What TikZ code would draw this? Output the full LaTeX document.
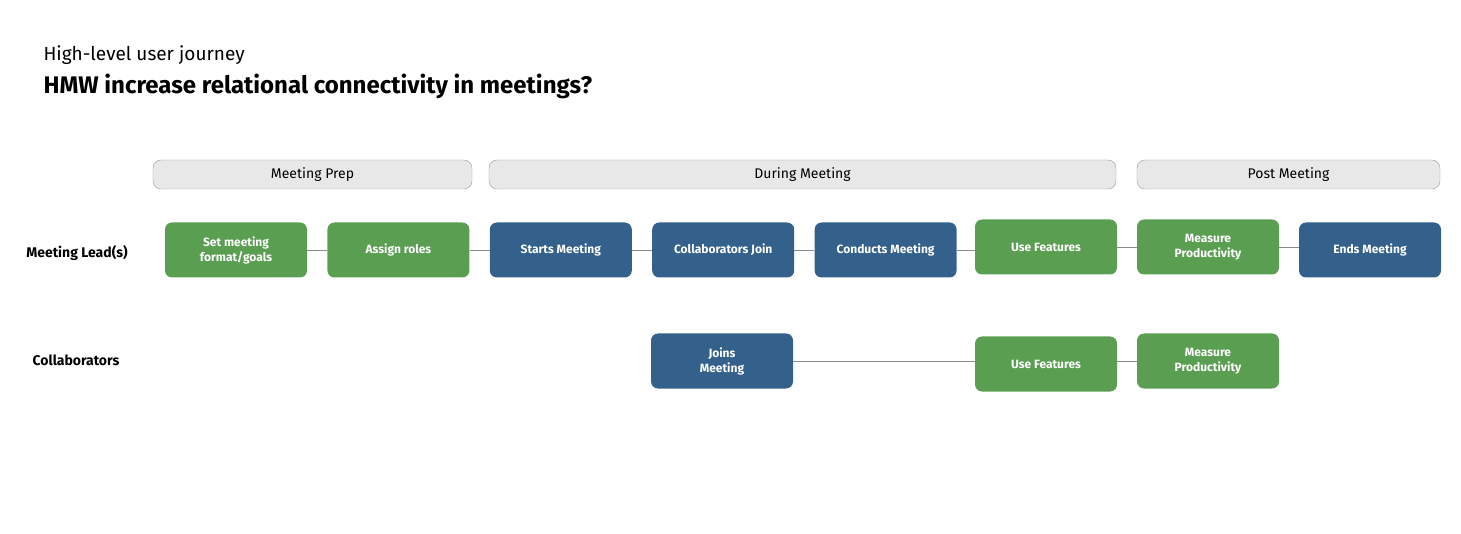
\documentclass[tikz,border=0pt]{standalone}
\usepackage{fontspec}
\setmainfont{Fira Sans}
\usetikzlibrary{positioning}
\definecolor{stepgreen}{HTML}{5A9E52}
\definecolor{stepblue}{HTML}{34618C}
\definecolor{phasegray}{HTML}{E8E8E8}
\tikzset{
  stepbox/.style={rounded corners=7pt, minimum width=142pt, minimum height=55pt, align=center,
    text=white, font=\fontsize{12}{15}\selectfont\bfseries},
  green/.style={stepbox, fill=stepgreen},
  blue/.style={stepbox, fill=stepblue},
  phase/.style={draw=gray!80, fill=phasegray, rounded corners=8pt, minimum height=29pt,
    font=\fontsize{14}{16}\selectfont},
  link/.style={draw=gray!90, line width=0.8pt},
  lane/.style={font=\fontsize{14}{16}\selectfont\bfseries}
}
\begin{document}
\begin{tikzpicture}[x=1pt,y=-1pt]
  \useasboundingbox (0,0) rectangle (1461,534);
  \node[anchor=base west, font=\fontsize{19}{22}\selectfont] (sub) at (40,61) {High-level user journey};
  \node[anchor=base west, font=\fontsize{24}{28}\selectfont\bfseries] (title) at (40,94) {HMW increase relational connectivity in meetings?};
  % phases
  \node[phase, minimum width=319pt] (prep) at (312.5,174.5) {Meeting Prep};
  \node[phase, minimum width=627pt] (during) at (802.5,174.5) {During Meeting};
  \node[phase, minimum width=303pt] (post) at (1288.5,174.5) {Post Meeting};
  % lanes
  \node[lane] (lead) at (77,253) {Meeting Lead(s)};
  \node[lane] (collab) at (76,360) {Collaborators};
  % meeting lead row
  \node[green] (setfmt) at (236,250) {Set meeting\\format/goals};
  \node[green, right=20pt of setfmt] (roles) {Assign roles};
  \node[blue, right=20pt of roles] (starts) {Starts Meeting};
  \node[blue, right=20pt of starts] (join) {Collaborators Join};
  \node[blue, right=20pt of join] (conducts) {Conducts Meeting};
  \node[green] (usefeat) at (1046,247) {Use Features};
  \node[green] (measure) at (1208,247) {Measure\\Productivity};
  \node[blue] (ends) at (1370,250) {Ends Meeting};
  % collaborator row
  \node[blue] (joins) at (722,361) {Joins\\Meeting};
  \node[green] (usefeat2) at (1046,364) {Use Features};
  \node[green] (measure2) at (1208,361) {Measure\\Productivity};
  % links
  \draw[link] (setfmt) -- (roles);
  \draw[link] (roles) -- (starts);
  \draw[link] (starts) -- (join);
  \draw[link] (join) -- (conducts);
  \draw[link] (conducts.east) -- (conducts.east -| usefeat.west);
  \draw[link] (usefeat.east) -- (measure.west);
  \draw[link] (measure.east) -- (measure.east -| ends.west);
  \draw[link] (joins.east) -- (joins.east -| usefeat2.west);
  \draw[link] (usefeat2.east |- measure2.west) -- (measure2.west);
\end{tikzpicture}
\end{document}
